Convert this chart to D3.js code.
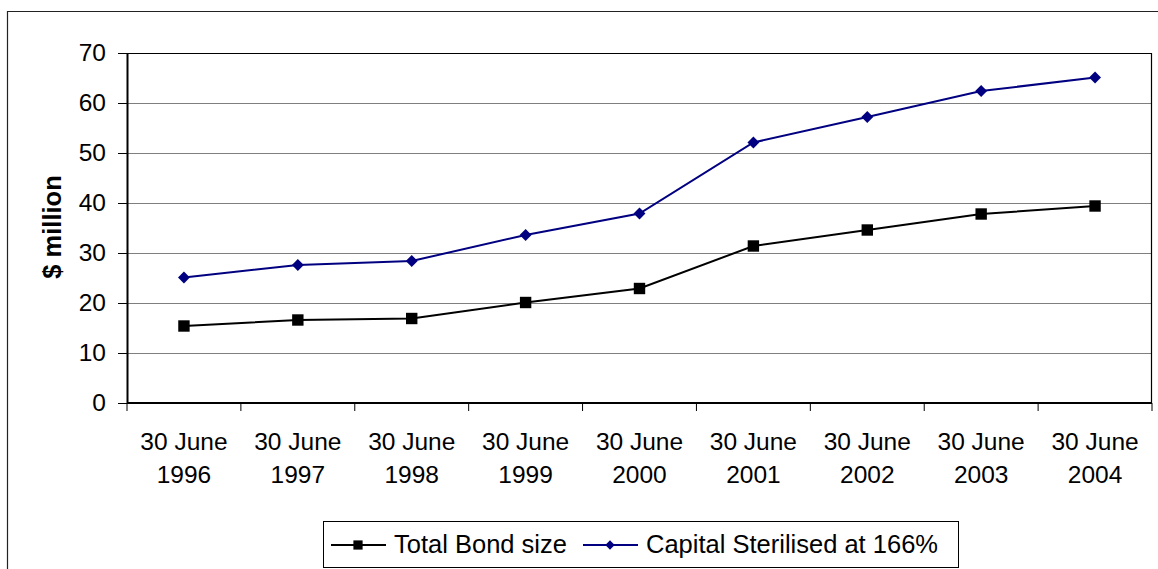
<!DOCTYPE html>
<html>
<head>
<meta charset="utf-8">
<script src="https://cdn.jsdelivr.net/npm/d3@7"></script>
<style>
  html, body { margin: 0; padding: 0; background: #fff; }
  svg { display: block; }
  svg text { font-family: Arial, "Liberation Sans", sans-serif; fill: #000; }
</style>
</head>
<body>
<div id="chart"></div>
<script>
// DATA
const categories = ["1996", "1997", "1998", "1999", "2000", "2001", "2002", "2003", "2004"];
const bondSize = [15.4, 16.6, 16.9, 20.1, 22.9, 31.4, 34.6, 37.8, 39.4];
const capitalSterilised = [25.1, 27.6, 28.4, 33.6, 37.9, 52.1, 57.2, 62.4, 65.1];
const yTicks = [0, 10, 20, 30, 40, 50, 60, 70];
const seriesNames = ["Total Bond size", "Capital Sterilised at 166%"];

const width = 1158, height = 569;
const margin = { top: 53, right: 6, bottom: 166, left: 127 };
const innerWidth = width - margin.left - margin.right;
const innerHeight = height - margin.top - margin.bottom;

const svg = d3.select("#chart").append("svg")
  .attr("width", width)
  .attr("height", height);

// outer chart frame (only left and top edges are visible)
svg.append("path")
  .attr("d", `M7.5,${height}V11.5H${width}`)
  .attr("fill", "none").attr("stroke", "#222").attr("stroke-width", 1.2);

const g = svg.append("g").attr("transform", `translate(${margin.left},${margin.top})`);

const x = d3.scaleBand()
  .domain(categories)
  .range([0, innerWidth]);

const y = d3.scaleLinear()
  .domain([0, 70])
  .range([innerHeight, 0]);

// gridlines
g.selectAll(".grid").data(yTicks.filter(d => d > 0 && d < 70))
  .enter().append("line")
  .attr("class", "grid")
  .attr("x1", 0).attr("x2", innerWidth)
  .attr("y1", d => Math.round(y(d)) + 0.5).attr("y2", d => Math.round(y(d)) + 0.5)
  .attr("stroke", "#7f7f7f").attr("stroke-width", 1);

// plot border (top/right)
g.append("path")
  .attr("d", `M0,0.5H${innerWidth - 0.5}V${innerHeight}`)
  .attr("fill", "none").attr("stroke", "#000").attr("stroke-width", 1.2);

// y axis
const yAxis = d3.axisLeft(y).tickValues(yTicks).tickSize(9).tickPadding(12).tickSizeOuter(0);
const yAxisG = g.append("g").attr("class", "y-axis").call(yAxis);
yAxisG.attr("font-family", null).attr("font-size", null);
yAxisG.select(".domain").attr("stroke", "#000").attr("stroke-width", 2);
yAxisG.selectAll(".tick line").attr("stroke", "#000").attr("stroke-width", 1);
yAxisG.selectAll(".tick text")
  .style("font-size", "24.5px")
  .attr("fill", "#000");

// x axis: ticks at band boundaries
const xAxisG = g.append("g").attr("class", "x-axis")
  .attr("transform", `translate(0,${innerHeight})`);
xAxisG.append("line")
  .attr("x1", 0).attr("x2", innerWidth)
  .attr("y1", 0).attr("y2", 0)
  .attr("stroke", "#000").attr("stroke-width", 2);
const boundaries = categories.map(c => x(c)).concat([innerWidth]);
xAxisG.selectAll(".xtick").data(boundaries)
  .enter().append("line")
  .attr("class", "xtick")
  .attr("x1", d => d).attr("x2", d => d)
  .attr("y1", 0).attr("y2", 8)
  .attr("stroke", "#000").attr("stroke-width", 1);
const xLabels = xAxisG.selectAll(".xlabel").data(categories)
  .enter().append("text")
  .attr("class", "xlabel")
  .attr("text-anchor", "middle")
  .style("font-size", "24.5px");
xLabels.append("tspan")
  .attr("x", d => x(d) + x.bandwidth() / 2)
  .attr("y", 47)
  .text("30 June");
xLabels.append("tspan")
  .attr("x", d => x(d) + x.bandwidth() / 2)
  .attr("y", 80)
  .text(d => d);

// y axis title
svg.append("text")
  .attr("transform", `translate(61,${margin.top + innerHeight / 2 - 1}) rotate(-90)`)
  .attr("text-anchor", "middle")
  .style("font-size", "25.5px")
  .style("font-weight", "bold")
  .text("$ million");

// lines
const line = d3.line()
  .x((d, i) => x(categories[i]) + x.bandwidth() / 2)
  .y(d => y(d));

g.append("path").datum(bondSize)
  .attr("d", line)
  .attr("fill", "none").attr("stroke", "#000").attr("stroke-width", 2);

g.append("path").datum(capitalSterilised)
  .attr("d", line)
  .attr("fill", "none").attr("stroke", "#000080").attr("stroke-width", 2);

// markers
const squareSym = d3.symbol().type(d3.symbolSquare).size(130);
const diamondSym = d3.symbol().type(d3.symbolDiamond2).size(90);

g.selectAll(".sq").data(bondSize)
  .enter().append("path")
  .attr("class", "sq")
  .attr("d", squareSym)
  .attr("transform", (d, i) => `translate(${x(categories[i]) + x.bandwidth() / 2},${y(d)})`)
  .attr("fill", "#000");

g.selectAll(".dm").data(capitalSterilised)
  .enter().append("path")
  .attr("class", "dm")
  .attr("d", diamondSym)
  .attr("transform", (d, i) => `translate(${x(categories[i]) + x.bandwidth() / 2},${y(d)})`)
  .attr("fill", "#000080");

// legend
const legend = svg.append("g").attr("transform", "translate(323,521)");
legend.append("rect")
  .attr("x", 0.5).attr("y", 0.5)
  .attr("width", 635).attr("height", 46)
  .attr("fill", "#fff").attr("stroke", "#000").attr("stroke-width", 1);

const legendSquare = d3.symbol().type(d3.symbolSquare).size(85);
const legendDiamond = d3.symbol().type(d3.symbolDiamond2).size(55);
const legendItems = [
  { name: seriesNames[0], color: "#000", sym: legendSquare, x: 8 },
  { name: seriesNames[1], color: "#000080", sym: legendDiamond, x: 260 }
];
const li = legend.selectAll(".li").data(legendItems)
  .enter().append("g")
  .attr("class", "li")
  .attr("transform", d => `translate(${d.x},24)`);
li.append("line")
  .attr("x1", 0).attr("x2", 55)
  .attr("stroke", d => d.color).attr("stroke-width", 2);
li.append("path")
  .attr("d", d => d.sym())
  .attr("transform", "translate(27,0)")
  .attr("fill", d => d.color);
li.append("text")
  .attr("x", 63).attr("y", 8)
  .style("font-size", "25.5px")
  .text(d => d.name);
</script>
</body>
</html>
